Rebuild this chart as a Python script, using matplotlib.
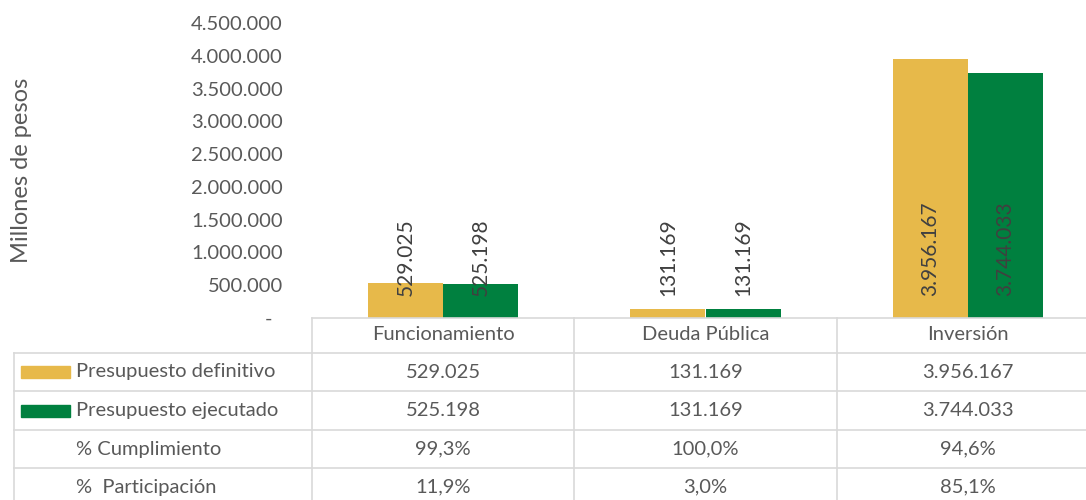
import numpy as np
import matplotlib
matplotlib.use("Agg")
import matplotlib.pyplot as plt
from matplotlib.lines import Line2D
from matplotlib.patches import Rectangle
from matplotlib.ticker import FuncFormatter, MultipleLocator
from matplotlib.transforms import blended_transform_factory

categories = ["Funcionamiento", "Deuda Pública", "Inversión"]
definitivo = [529025, 131169, 3956167]
ejecutado = [525198, 131169, 3744033]
cumplimiento = ["99,3%", "100,0%", "94,6%"]
participacion = ["11,9%", "3,0%", "85,1%"]
series_names = ["Presupuesto definitivo", "Presupuesto ejecutado"]
row_names = ["% Cumplimiento", "%  Participación"]

YELLOW = "#E7B94A"
GREEN = "#00803F"
GRID = "#D9D9D9"
TXT = "#595959"
FS = 14.5

plt.rcParams["font.family"] = ["Lato", "DejaVu Sans"]

W, H = 1086, 500
fig = plt.figure(figsize=(W / 100, H / 100), dpi=100)


def fx(x):
    return x / W


def fy(y):
    return 1 - y / H


# bar area: x 312..1099 px, y 23..318 px
ax = fig.add_axes([fx(312), fy(318), fx(1099) - fx(312), fy(23) - fy(318)])
x = np.arange(len(categories))
bw = 0.286
b1 = ax.bar(x - bw / 2, definitivo, bw, color=YELLOW)
b2 = ax.bar(x + bw / 2, ejecutado, bw, color=GREEN)

fmt = lambda v: f"{v:,.0f}".replace(",", ".")
for bars, vals in ((b1, definitivo), (b2, ejecutado)):
    for rect, v in zip(bars, vals):
        ax.annotate(fmt(v), (rect.get_x() + rect.get_width() / 2, 0),
                    xytext=(0, 16), textcoords="offset points",
                    rotation=90, ha="center", va="bottom",
                    fontsize=15, color="#404040")

ax.set_xlim(-0.5, 2.5)
ax.set_ylim(0, 4500000)
ax.yaxis.set_major_locator(MultipleLocator(500000))
ax.yaxis.set_major_formatter(FuncFormatter(lambda v, p: "-  " if v == 0 else fmt(v)))
ax.tick_params(axis="y", length=0, labelsize=FS, labelcolor=TXT, pad=21)
ax.set_xticks([])
for s in ax.spines.values():
    s.set_visible(False)
ax.set_ylabel("Millones de pesos", fontsize=17, color=TXT)
ax.yaxis.set_label_coords((22 - 312) / (1099 - 312), 0.5)
ax.yaxis.label.set_va("center")

# data table below the chart
tr = blended_transform_factory(ax.transData, fig.transFigure)
right = 2.5
rows_y = [318, 353, 391, 430, 468, 506]


def hline(x0, x1, y, trans):
    fig.add_artist(Line2D([x0, x1], [fy(y), fy(y)], color=GRID, lw=1.2, transform=trans))


def vline(xv, y0, y1, trans):
    fig.add_artist(Line2D([xv, xv], [fy(y0), fy(y1)], color=GRID, lw=1.2, transform=trans))


hline(-0.5, right, rows_y[0], tr)
for yy in rows_y[1:5]:
    hline(fx(14), 1.0, yy, fig.transFigure)
vline(fx(14), rows_y[1], 500, fig.transFigure)
for xb in (-0.5, 0.5, 1.5):
    vline(xb, rows_y[0], 500, tr)

tkw = dict(fontsize=FS, color=TXT, va="center")
for i, c in enumerate(categories):
    fig.text(i, fy(335), c, transform=tr, ha="center", **tkw)

table_rows = [
    [fmt(v) for v in definitivo],
    [fmt(v) for v in ejecutado],
    cumplimiento,
    participacion,
]
labels = series_names + row_names
keys = [YELLOW, GREEN, None, None]
for r, (lab, vals, key) in enumerate(zip(labels, table_rows, keys)):
    yc = (rows_y[r + 1] + rows_y[r + 2]) / 2
    if key:
        fig.add_artist(Rectangle((fx(21), fy(yc + 6)), fx(49), 12 / H,
                                 color=key, transform=fig.transFigure))
    fig.text(fx(76), fy(yc), lab, ha="left", **tkw)
    for i, v in enumerate(vals):
        fig.text(i, fy(yc), v, transform=tr, ha="center", **tkw)

fig.savefig("out.png", dpi=100)
